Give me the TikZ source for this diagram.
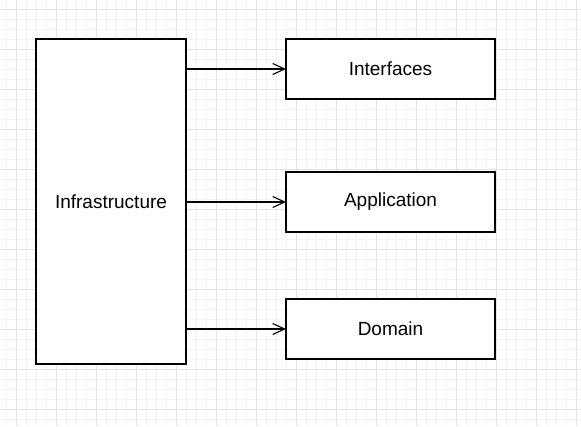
\documentclass[tikz,border=0pt]{standalone}
\usepackage{fontspec}
\setmainfont{Liberation Sans}
\usetikzlibrary{positioning}
\usetikzlibrary{arrows.meta}
\definecolor{gridmajor}{HTML}{E4E4E4}
\definecolor{gridminor}{HTML}{F4F4F4}

\begin{document}
\begin{tikzpicture}[x=1pt, y=-1pt, node distance=73pt and 100pt,
    layer/.style={rectangle, draw, line width=1.1pt, fill=white, minimum width=209pt, minimum height=60pt, align=center, font=\fontsize{19}{22}\selectfont, inner sep=0pt, outer sep=0pt},
    arrow/.style={-{Straight Barb[length=12pt, width=11pt, line width=1.1pt]}, line width=1.1pt}]

\useasboundingbox (0,0) rectangle (581,426);

% grid
\foreach \x in {6.7,16.7,...,581} \draw[gridminor, line width=0.8pt] (\x,0) -- (\x,426);
\foreach \y in {-0.7,9.3,...,426} \draw[gridminor, line width=0.8pt] (0,\y) -- (581,\y);
\foreach \x in {16.7,56.7,...,581} \draw[gridmajor, line width=0.9pt] (\x,0) -- (\x,426);
\foreach \y in {9.3,49.3,...,426} \draw[gridmajor, line width=0.9pt] (0,\y) -- (581,\y);

\node[layer, minimum width=150pt, minimum height=325pt] (infra) at (111,201.5) {Infrastructure};
\node[layer, anchor=north west] (interfaces) at ([xshift=100pt]infra.north east) {Interfaces};
\node[layer, below=of interfaces] (application) {Application};
\node[layer, below=67pt of application] (domain) {Domain};

\draw[arrow] (infra.east |- interfaces.west) -- (interfaces.west);
\draw[arrow] (infra.east |- application.west) -- (application.west);
\draw[arrow] (infra.east |- domain.west) -- (domain.west);
\end{tikzpicture}
\end{document}
